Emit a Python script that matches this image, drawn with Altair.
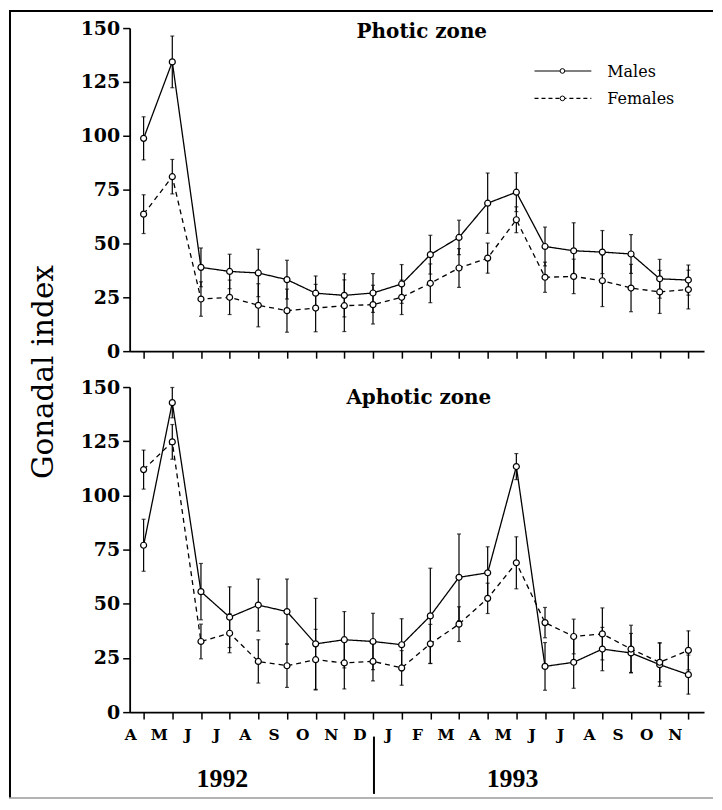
import json
import altair as alt
import pandas as pd

# ---------------- data ----------------
months = ["A", "M", "J", "J", "A", "S", "O", "N", "D",
          "J", "F", "M", "A", "M", "J", "J", "A", "S", "O", "N"]
years = ["1992", "1993"]
series_names = ["Males", "Females"]

# Photic zone
males_photic = [98.8, 134.3, 38.9, 37.0, 36.3, 33.2, 26.9, 25.9, 27.0, 31.2,
                44.8, 52.8, 68.7, 73.8, 48.6, 46.6, 46.0, 45.1, 33.6, 33.0]
males_photic_err = [10, 12, 9, 8, 11, 9, 8, 10, 9, 9,
                    9, 8, 14, 9, 9, 13, 10, 9, 9, 7]
females_photic = [63.6, 81.0, 24.2, 25.0, 21.3, 18.8, 20.0, 21.1, 21.6, 25.0,
                  31.5, 38.6, 43.2, 61.0, 34.3, 34.7, 32.7, 29.3, 27.5, 28.6]
females_photic_err = [9, 8, 8, 8, 10, 10, 11, 12, 9, 8,
                      9, 9, 7, 6, 7, 8, 12, 11, 10, 9]

# Aphotic zone
males_aphotic = [77.0, 142.8, 55.6, 43.8, 49.4, 46.4, 31.5, 33.4, 32.6, 31.1,
                 44.4, 62.2, 64.3, 113.3, 21.1, 23.0, 29.1, 27.3, 21.9, 17.3]
males_aphotic_err = [12, 7, 13, 14, 12, 15, 21, 13, 13, 12,
                     22, 20, 12, 6, 11, 12, 10, 9, 10, 9]
females_aphotic = [111.9, 124.7, 32.6, 36.4, 23.4, 21.4, 24.2, 22.7, 23.4, 20.4,
                   31.5, 40.6, 52.5, 68.9, 41.3, 34.9, 36.1, 29.1, 23.0, 28.5]
females_aphotic_err = [9, 8, 8, 9, 10, 10, 14, 12, 9, 8,
                       9, 8, 7, 12, 7, 8, 12, 11, 9, 9]

y_ticks = [0, 25, 50, 75, 100, 125, 150]

# ---------------- helpers ----------------
SERIF = "DejaVu Serif"
W = 576


def make_df(m, me, f, fe):
    rows = []
    for name, vals, errs in (("Males", m, me), ("Females", f, fe)):
        for i, (v, e) in enumerate(zip(vals, errs)):
            rows.append({"idx": i, "sex": name, "v": v, "lo": v - e, "hi": v + e})
    return pd.DataFrame(rows)


xscale = alt.Scale(domain=[-0.487, 19.546], nice=False, zero=False)
yscale = alt.Scale(domain=[0, 150], nice=False)
dash_scale = alt.Scale(domain=series_names, range=[[1, 0], [5, 4]])

x_axis = alt.Axis(
    values=list(range(len(months))), labels=False,
    tickSize=7, tickWidth=1.5, tickColor="black",
    domainColor="black", domainWidth=1.8, grid=False, title=None)

y_axis = alt.Axis(
    values=y_ticks, labelFlush=False, labelOverlap=False,
    labelFont=SERIF, labelFontWeight="bold", labelFontSize=19,
    labelColor="black", labelPadding=3,
    tickSize=7, tickWidth=1.5, tickColor="black",
    domainColor="black", domainWidth=1.8, grid=False, title=None)


def text_layer(label, x, y, size, weight="normal", font=SERIF, align="center",
               angle=0, baseline="alphabetic"):
    return alt.Chart(pd.DataFrame({"t": [label]})).mark_text(
        font=font, fontSize=size, fontWeight=weight, align=align,
        baseline=baseline, angle=angle, color="black"
    ).encode(x=alt.value(x), y=alt.value(y), text="t:N")


def rule_layer(x, y, x2=None, y2=None, width=1.5, color="black", dash=None):
    enc = {"x": alt.value(x), "y": alt.value(y)}
    if x2 is not None:
        enc["x2"] = alt.value(x2)
    if y2 is not None:
        enc["y2"] = alt.value(y2)
    kw = {"color": color, "strokeWidth": width}
    if dash is not None:
        kw["strokeDash"] = dash
    return alt.Chart(pd.DataFrame({"a": [0]})).mark_rule(**kw).encode(**enc)


def marker_layer(x, y, size=22):
    return alt.Chart(pd.DataFrame({"a": [0]})).mark_point(
        shape="circle", fill="white", stroke="black", strokeWidth=1,
        size=size, opacity=1, fillOpacity=1
    ).encode(x=alt.value(x), y=alt.value(y))


def make_panel(df, height, title, title_x, title_y):
    base = alt.Chart(df)
    X = alt.X("idx:Q", scale=xscale, axis=x_axis)
    bars = base.mark_rule(color="black", strokeWidth=1.2).encode(
        x=X, y=alt.Y("lo:Q", scale=yscale, axis=y_axis), y2="hi:Q")
    cap_lo = base.mark_tick(color="black", size=4, thickness=1.2,
                            orient="horizontal").encode(
        x=X, y=alt.Y("lo:Q", scale=yscale, axis=y_axis))
    cap_hi = base.mark_tick(color="black", size=4, thickness=1.2,
                            orient="horizontal").encode(
        x=X, y=alt.Y("hi:Q", scale=yscale, axis=y_axis))
    lines = base.mark_line(color="black", strokeWidth=1.3).encode(
        x=X, y=alt.Y("v:Q", scale=yscale, axis=y_axis),
        strokeDash=alt.StrokeDash("sex:N", scale=dash_scale, legend=None),
        detail="sex:N")
    pts = base.mark_point(shape="circle", fill="white", stroke="black",
                          strokeWidth=1.2, size=36, opacity=1,
                          fillOpacity=1).encode(
        x=X, y=alt.Y("v:Q", scale=yscale, axis=y_axis))
    ttl = text_layer(title, title_x, title_y, 20, weight="bold")
    return alt.layer(bars, cap_lo, cap_hi, lines, pts, ttl).properties(
        width=W, height=height)


top = make_panel(make_df(males_photic, males_photic_err,
                         females_photic, females_photic_err),
                 324, "Photic zone", 293, 9.5)
bottom = make_panel(make_df(males_aphotic, males_aphotic_err,
                            females_aphotic, females_aphotic_err),
                    326, "Aphotic zone", 290, 17)

# legend (drawn by hand, top panel)
legend = [
    rule_layer(406, 43, x2=463, width=1.1),
    rule_layer(406, 70.5, x2=463, width=1.1, dash=[4, 3]),
    marker_layer(434, 43),
    marker_layer(434, 70.5),
    text_layer(series_names[0], 479, 49.5, 16, align="left"),
    text_layer(series_names[1], 479, 76, 16, align="left"),
]

# y title, frame
extras_top = [
    text_layer("Gonadal index", -77, 345, 29.5, angle=270),
    rule_layer(-121, -17, x2=585, width=2),          # frame top
    rule_layer(-120, -18, y2=772, width=2),          # frame left
    rule_layer(-121, 772, x2=585, width=1.5, color="#9a9a9a"),  # frame bottom
]

top = alt.layer(top, *legend, *extras_top)

# month labels (placed through the x scale, shifted left of each tick)
month_df = pd.DataFrame({"idx": list(range(len(months))), "m": months})
month_labels = alt.Chart(month_df).mark_text(
    font=SERIF, fontSize=15.5, fontWeight="bold", baseline="top",
    align="center", dx=-13, color="black"
).encode(x=alt.X("idx:Q", scale=xscale, axis=x_axis),
         y=alt.value(342), text="m:N")

# years and separator (bottom panel)
extras_bottom = [
    month_labels,
    text_layer(years[0], 93, 401.5, 26, weight="bold", font="Liberation Serif"),
    text_layer(years[1], 384, 401.5, 26, weight="bold", font="Liberation Serif"),
    rule_layer(245, 350.5, y2=408, width=2),
]
bottom = alt.layer(bottom, *extras_bottom)

chart = alt.vconcat(top, bottom, spacing=36, bounds="flush").properties(
    padding=0, background="white"
).configure_view(stroke=None)

chart.save("out.html", embed_options={"renderer": "svg", "actions": False})
